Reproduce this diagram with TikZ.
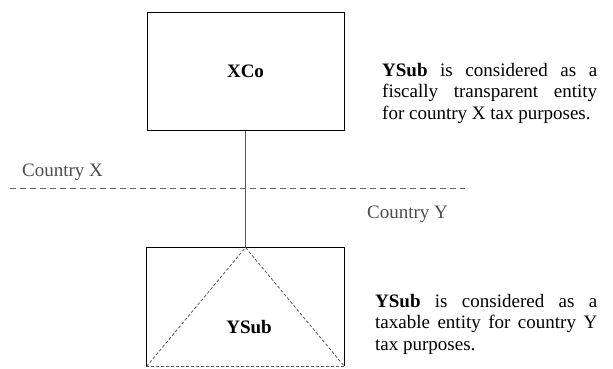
\documentclass[tikz,border=0pt]{standalone}
\usepackage{fontspec}
\setmainfont{Liberation Serif}
\hyphenpenalty=10000
\exhyphenpenalty=10000
\tolerance=9999
\begin{document}
\begin{tikzpicture}[x=1pt,y=-1pt,
  entity/.style={draw=black,line width=1pt,minimum width=197pt,minimum height=118pt,inner sep=0pt,
                 font=\fontsize{19}{21}\selectfont\bfseries},
  link/.style={draw=black!65,line width=1.4pt},
  border/.style={draw=black!60,line width=0.9pt,dash pattern=on 6pt off 4pt},
  inner/.style={draw=black!65,line width=0.8pt,dash pattern=on 3pt off 2pt},
  country/.style={text=black!70,inner sep=0pt,font=\fontsize{19}{21}\selectfont},
  note/.style={inner sep=0pt,align=justify,font=\fontsize{19}{21.5}\selectfont}]
  \useasboundingbox (0,0) rectangle (613,368);
  % entities
  \node[entity] (xco) at (245.5,71) {XCo};
  \node[entity,draw=none] (ysub) at (245.5,307) {};
  \draw[black,line width=1pt] (ysub.south west) -- (ysub.north west) -- (ysub.north east) -- (ysub.south east);
  % dashed triangle inside YSub
  \coordinate (apex) at (ysub.north);
  \draw[white,line width=1pt] (ysub.south west) -- (ysub.south east);
  \draw[inner] (ysub.south west) -- (apex) -- (ysub.south east) -- cycle;
  \node[font=\fontsize{19}{21}\selectfont\bfseries] (ylabel) at (249,327) {YSub};
  % ownership link
  \draw[link] (xco.south) -- (ysub.north);
  % border between countries
  \coordinate (bl) at (10,188);
  \coordinate (br) at (465,188);
  \draw[border] (bl) -- (br);
  \node[country,anchor=base west] (cx) at (22,176) {Country X};
  \node[country,anchor=base west] (cy) at (367,218) {Country Y};
  % explanatory notes
  \node[note,anchor=north west,text width=215pt] (n1) at (382,63)
    {\textbf{YSub} is considered as a fiscally transparent entity for country X tax purposes.};
  \node[note,anchor=north west,text width=222pt] (n2) at (375,294)
    {\textbf{YSub} is considered as a taxable entity for country Y tax purposes.};
\end{tikzpicture}
\end{document}
